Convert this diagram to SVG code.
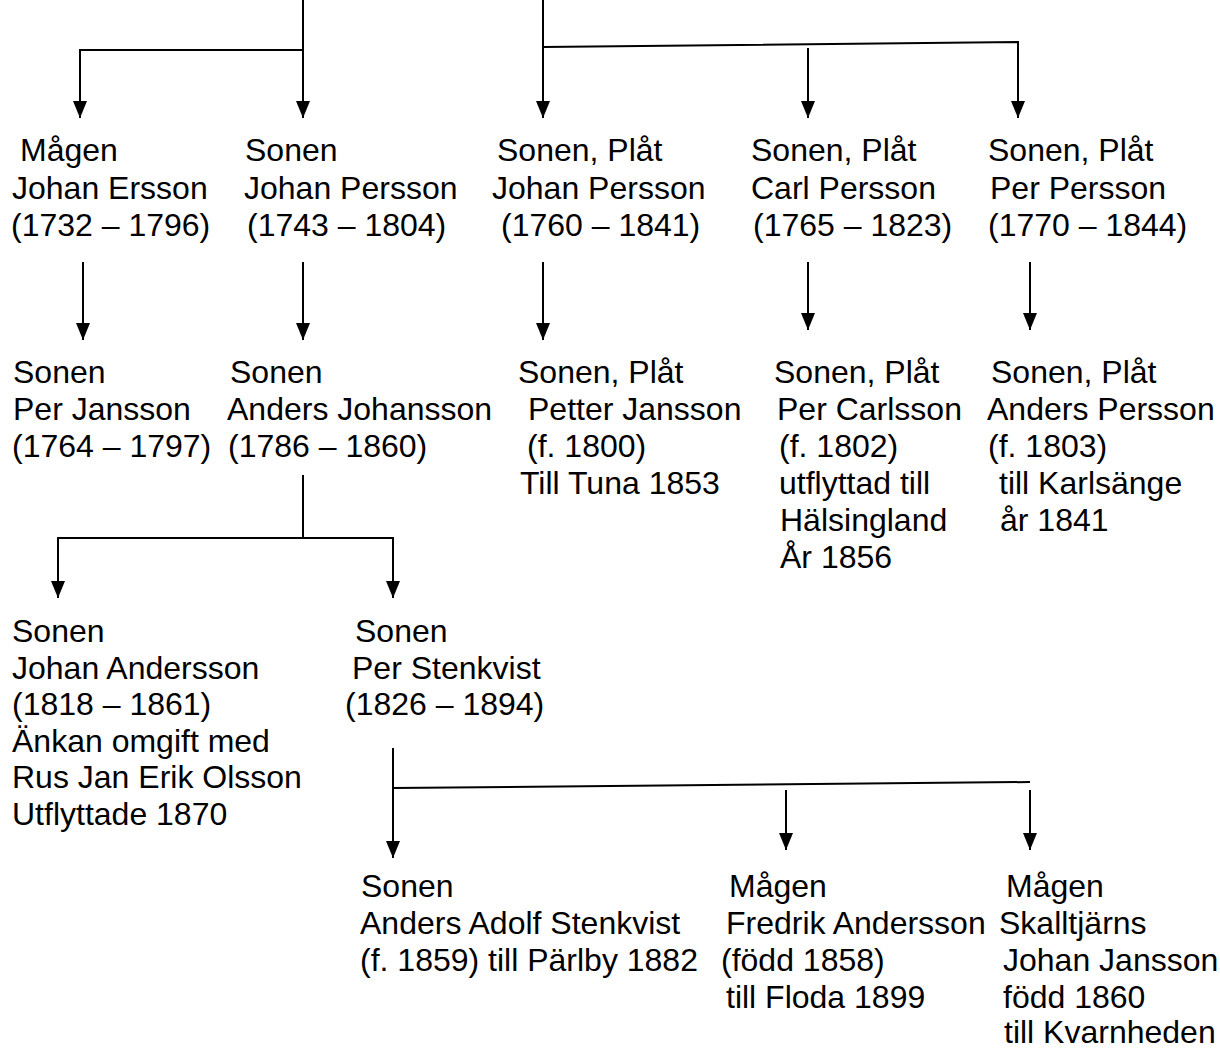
<svg xmlns="http://www.w3.org/2000/svg" width="1220" height="1048" viewBox="0 0 1220 1048">
<style>
text{font-family:"Liberation Sans",Arial,Helvetica,sans-serif;font-size:32px;fill:#000}
.c line,.c polyline{stroke:#000;stroke-width:2;fill:none}
.a{marker-end:url(#ar)}
</style>
<defs>
<marker id="ar" markerUnits="userSpaceOnUse" viewBox="0 -7.5 17 15" refX="17" refY="0" markerWidth="17" markerHeight="15" orient="auto"><path d="M0,-7L17,0L0,7z" fill="#000"/></marker>
</defs>
<rect width="1220" height="1048" fill="#fff"/>
<g class="c" id="connectors">
<line x1="303" y1="0" x2="303" y2="118" class="a"/>
<polyline points="303,50 80,50 80,118" class="a"/>
<line x1="543" y1="0" x2="543" y2="118" class="a"/>
<polyline points="543,47 1018,42 1018,118" class="a"/>
<line x1="808" y1="48" x2="808" y2="118" class="a"/>
<line x1="83" y1="262" x2="83" y2="340" class="a"/>
<line x1="303" y1="262" x2="303" y2="340" class="a"/>
<line x1="543" y1="262" x2="543" y2="340" class="a"/>
<line x1="808" y1="262" x2="808" y2="330" class="a"/>
<line x1="1030" y1="262" x2="1030" y2="330" class="a"/>
<line x1="303" y1="475" x2="303" y2="538"/>
<polyline points="58,560 58,538 393,538 393,560"/>
<line x1="58" y1="560" x2="58" y2="598" class="a"/>
<line x1="393" y1="560" x2="393" y2="598" class="a"/>
<line x1="393" y1="748" x2="393" y2="858" class="a"/>
<line x1="393" y1="788" x2="1030" y2="782"/>
<line x1="786" y1="790" x2="786" y2="850" class="a"/>
<line x1="1030" y1="790" x2="1030" y2="850" class="a"/>
</g>
<g id="n-johan-ersson"><text><tspan x="20" y="161">Mågen</tspan><tspan x="12" y="198.5">Johan Ersson</tspan><tspan x="11" y="236">(1732 – 1796)</tspan></text></g>
<g id="n-johan-persson-1743"><text><tspan x="245" y="161">Sonen</tspan><tspan x="244" y="198.5">Johan Persson</tspan><tspan x="247" y="236">(1743 – 1804)</tspan></text></g>
<g id="n-johan-persson-1760"><text><tspan x="497" y="161">Sonen, Plåt</tspan><tspan x="492" y="198.5">Johan Persson</tspan><tspan x="501" y="236">(1760 – 1841)</tspan></text></g>
<g id="n-carl-persson"><text><tspan x="751" y="161">Sonen, Plåt</tspan><tspan x="751" y="198.5">Carl Persson</tspan><tspan x="753" y="236">(1765 – 1823)</tspan></text></g>
<g id="n-per-persson"><text><tspan x="988" y="161">Sonen, Plåt</tspan><tspan x="990" y="198.5">Per Persson</tspan><tspan x="988" y="236">(1770 – 1844)</tspan></text></g>
<g id="n-per-jansson"><text><tspan x="13" y="383">Sonen</tspan><tspan x="13" y="420">Per Jansson</tspan><tspan x="12" y="457">(1764 – 1797)</tspan></text></g>
<g id="n-anders-johansson"><text><tspan x="230" y="383">Sonen</tspan><tspan x="227" y="420">Anders Johansson</tspan><tspan x="228" y="457">(1786 – 1860)</tspan></text></g>
<g id="n-petter-jansson"><text><tspan x="518" y="383">Sonen, Plåt</tspan><tspan x="528" y="420">Petter Jansson</tspan><tspan x="527" y="457">(f. 1800)</tspan><tspan x="520" y="494">Till Tuna 1853</tspan></text></g>
<g id="n-per-carlsson"><text><tspan x="774" y="383">Sonen, Plåt</tspan><tspan x="777" y="420">Per Carlsson</tspan><tspan x="779" y="457">(f. 1802)</tspan><tspan x="779" y="494">utflyttad till</tspan><tspan x="780" y="531">Hälsingland</tspan><tspan x="780" y="568">År 1856</tspan></text></g>
<g id="n-anders-persson"><text><tspan x="991" y="383">Sonen, Plåt</tspan><tspan x="987" y="420">Anders Persson</tspan><tspan x="988" y="457">(f. 1803)</tspan><tspan x="999" y="494">till Karlsänge</tspan><tspan x="1000" y="531">år 1841</tspan></text></g>
<g id="n-johan-andersson"><text><tspan x="12" y="642">Sonen</tspan><tspan x="12" y="678.5">Johan Andersson</tspan><tspan x="12" y="715">(1818 – 1861)</tspan><tspan x="12" y="751.5">Änkan omgift med</tspan><tspan x="12" y="788">Rus Jan Erik Olsson</tspan><tspan x="12" y="824.5">Utflyttade 1870</tspan></text></g>
<g id="n-per-stenkvist"><text><tspan x="355" y="642">Sonen</tspan><tspan x="352" y="678.5">Per Stenkvist</tspan><tspan x="345" y="715">(1826 – 1894)</tspan></text></g>
<g id="n-anders-adolf-stenkvist"><text><tspan x="361" y="897">Sonen</tspan><tspan x="360" y="934">Anders Adolf Stenkvist</tspan><tspan x="360" y="971">(f. 1859) till Pärlby 1882</tspan></text></g>
<g id="n-fredrik-andersson"><text><tspan x="729" y="897">Mågen</tspan><tspan x="726" y="934">Fredrik Andersson</tspan><tspan x="721" y="971">(född 1858)</tspan><tspan x="726" y="1008">till Floda 1899</tspan></text></g>
<g id="n-johan-jansson"><text><tspan x="1006" y="897">Mågen</tspan><tspan x="999" y="934">Skalltjärns</tspan><tspan x="1003" y="971">Johan Jansson</tspan><tspan x="1003" y="1008">född 1860</tspan><tspan x="1004" y="1043">till Kvarnheden</tspan></text></g>
</svg>
